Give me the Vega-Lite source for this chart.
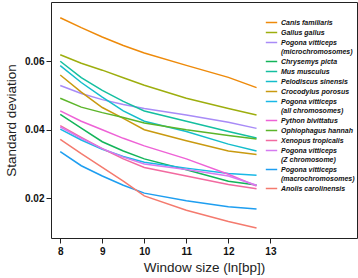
{
  "$schema": "https://vega.github.io/schema/vega-lite/v6.json",
  "autosize": {"type": "none"},
  "padding": {"left": 51, "top": 2, "right": 1, "bottom": 40},
  "width": 306,
  "height": 236,
  "config": {
    "view": {"stroke": "#222", "strokeWidth": 1},
    "font": "Liberation Sans",
    "axis": {"domain": false, "tickColor": "#222", "labelColor": "#111", "titleColor": "#222", "labelFontSize": 10, "labelFontWeight": "bold", "titleFontSize": 13.5, "titleFontWeight": "normal", "grid": false, "tickSize": 5}
  },
  "datasets": {
    "sd": [
      {"species": "Canis familiaris", "x": 8, "sd": 0.0727}, {"species": "Canis familiaris", "x": 8.5, "sd": 0.0698}, {"species": "Canis familiaris", "x": 9, "sd": 0.0671}, {"species": "Canis familiaris", "x": 9.5, "sd": 0.0646}, {"species": "Canis familiaris", "x": 10, "sd": 0.0624}, {"species": "Canis familiaris", "x": 11, "sd": 0.0588}, {"species": "Canis familiaris", "x": 12, "sd": 0.0553}, {"species": "Canis familiaris", "x": 12.67, "sd": 0.0523},
      {"species": "Gallus gallus", "x": 8, "sd": 0.0619}, {"species": "Gallus gallus", "x": 8.5, "sd": 0.0594}, {"species": "Gallus gallus", "x": 9, "sd": 0.0574}, {"species": "Gallus gallus", "x": 9.5, "sd": 0.0552}, {"species": "Gallus gallus", "x": 10, "sd": 0.0530}, {"species": "Gallus gallus", "x": 11, "sd": 0.0492}, {"species": "Gallus gallus", "x": 12, "sd": 0.0462}, {"species": "Gallus gallus", "x": 12.67, "sd": 0.0443},
      {"species": "Pogona vitticeps|(microchromosomes)", "x": 8, "sd": 0.0529}, {"species": "Pogona vitticeps|(microchromosomes)", "x": 8.5, "sd": 0.0506}, {"species": "Pogona vitticeps|(microchromosomes)", "x": 9, "sd": 0.0488}, {"species": "Pogona vitticeps|(microchromosomes)", "x": 9.5, "sd": 0.0474}, {"species": "Pogona vitticeps|(microchromosomes)", "x": 10, "sd": 0.0462}, {"species": "Pogona vitticeps|(microchromosomes)", "x": 11, "sd": 0.0443}, {"species": "Pogona vitticeps|(microchromosomes)", "x": 12, "sd": 0.0422}, {"species": "Pogona vitticeps|(microchromosomes)", "x": 12.67, "sd": 0.0404},
      {"species": "Chrysemys picta", "x": 8, "sd": 0.0445}, {"species": "Chrysemys picta", "x": 8.5, "sd": 0.0405}, {"species": "Chrysemys picta", "x": 9, "sd": 0.0365}, {"species": "Chrysemys picta", "x": 9.5, "sd": 0.0338}, {"species": "Chrysemys picta", "x": 10, "sd": 0.0315}, {"species": "Chrysemys picta", "x": 11, "sd": 0.0283}, {"species": "Chrysemys picta", "x": 12, "sd": 0.0250}, {"species": "Chrysemys picta", "x": 12.67, "sd": 0.0239},
      {"species": "Mus musculus", "x": 8, "sd": 0.0600}, {"species": "Mus musculus", "x": 8.5, "sd": 0.0552}, {"species": "Mus musculus", "x": 9, "sd": 0.0515}, {"species": "Mus musculus", "x": 9.5, "sd": 0.0483}, {"species": "Mus musculus", "x": 10, "sd": 0.0455}, {"species": "Mus musculus", "x": 11, "sd": 0.0425}, {"species": "Mus musculus", "x": 12, "sd": 0.0395}, {"species": "Mus musculus", "x": 12.67, "sd": 0.0376},
      {"species": "Pelodiscus sinensis", "x": 8, "sd": 0.0587}, {"species": "Pelodiscus sinensis", "x": 8.5, "sd": 0.0538}, {"species": "Pelodiscus sinensis", "x": 9, "sd": 0.0495}, {"species": "Pelodiscus sinensis", "x": 9.5, "sd": 0.0455}, {"species": "Pelodiscus sinensis", "x": 10, "sd": 0.0425}, {"species": "Pelodiscus sinensis", "x": 11, "sd": 0.0395}, {"species": "Pelodiscus sinensis", "x": 12, "sd": 0.0358}, {"species": "Pelodiscus sinensis", "x": 12.67, "sd": 0.0338},
      {"species": "Crocodylus porosus", "x": 8, "sd": 0.0560}, {"species": "Crocodylus porosus", "x": 8.5, "sd": 0.0510}, {"species": "Crocodylus porosus", "x": 9, "sd": 0.0465}, {"species": "Crocodylus porosus", "x": 9.5, "sd": 0.0433}, {"species": "Crocodylus porosus", "x": 10, "sd": 0.0400}, {"species": "Crocodylus porosus", "x": 11, "sd": 0.0368}, {"species": "Crocodylus porosus", "x": 12, "sd": 0.0338}, {"species": "Crocodylus porosus", "x": 12.67, "sd": 0.0328},
      {"species": "Pogona vitticeps|(all chromosomes)", "x": 8, "sd": 0.0402}, {"species": "Pogona vitticeps|(all chromosomes)", "x": 8.5, "sd": 0.0370}, {"species": "Pogona vitticeps|(all chromosomes)", "x": 9, "sd": 0.0343}, {"species": "Pogona vitticeps|(all chromosomes)", "x": 9.5, "sd": 0.0322}, {"species": "Pogona vitticeps|(all chromosomes)", "x": 10, "sd": 0.0305}, {"species": "Pogona vitticeps|(all chromosomes)", "x": 11, "sd": 0.0288}, {"species": "Pogona vitticeps|(all chromosomes)", "x": 12, "sd": 0.0272}, {"species": "Pogona vitticeps|(all chromosomes)", "x": 12.67, "sd": 0.0267},
      {"species": "Python bivittatus", "x": 8, "sd": 0.0455}, {"species": "Python bivittatus", "x": 8.5, "sd": 0.0425}, {"species": "Python bivittatus", "x": 9, "sd": 0.0400}, {"species": "Python bivittatus", "x": 9.5, "sd": 0.0375}, {"species": "Python bivittatus", "x": 10, "sd": 0.0353}, {"species": "Python bivittatus", "x": 11, "sd": 0.0315}, {"species": "Python bivittatus", "x": 12, "sd": 0.0270}, {"species": "Python bivittatus", "x": 12.67, "sd": 0.0236},
      {"species": "Ophiophagus hannah", "x": 8, "sd": 0.0492}, {"species": "Ophiophagus hannah", "x": 8.5, "sd": 0.0466}, {"species": "Ophiophagus hannah", "x": 9, "sd": 0.0450}, {"species": "Ophiophagus hannah", "x": 9.5, "sd": 0.0436}, {"species": "Ophiophagus hannah", "x": 10, "sd": 0.0420}, {"species": "Ophiophagus hannah", "x": 11, "sd": 0.0400}, {"species": "Ophiophagus hannah", "x": 12, "sd": 0.0383}, {"species": "Ophiophagus hannah", "x": 12.67, "sd": 0.0373},
      {"species": "Xenopus tropicalis", "x": 8, "sd": 0.0412}, {"species": "Xenopus tropicalis", "x": 8.5, "sd": 0.0378}, {"species": "Xenopus tropicalis", "x": 9, "sd": 0.0345}, {"species": "Xenopus tropicalis", "x": 9.5, "sd": 0.0315}, {"species": "Xenopus tropicalis", "x": 10, "sd": 0.0290}, {"species": "Xenopus tropicalis", "x": 11, "sd": 0.0265}, {"species": "Xenopus tropicalis", "x": 12, "sd": 0.0240}, {"species": "Xenopus tropicalis", "x": 12.67, "sd": 0.0228},
      {"species": "Pogona vitticeps|(Z chromosome)", "x": 8, "sd": 0.0408}, {"species": "Pogona vitticeps|(Z chromosome)", "x": 8.5, "sd": 0.0375}, {"species": "Pogona vitticeps|(Z chromosome)", "x": 9, "sd": 0.0345}, {"species": "Pogona vitticeps|(Z chromosome)", "x": 9.5, "sd": 0.0320}, {"species": "Pogona vitticeps|(Z chromosome)", "x": 10, "sd": 0.0300}, {"species": "Pogona vitticeps|(Z chromosome)", "x": 11, "sd": 0.0284}, {"species": "Pogona vitticeps|(Z chromosome)", "x": 12, "sd": 0.0265}, {"species": "Pogona vitticeps|(Z chromosome)", "x": 12.67, "sd": 0.0238},
      {"species": "Pogona vitticeps|(macrochromosomes)", "x": 8, "sd": 0.0336}, {"species": "Pogona vitticeps|(macrochromosomes)", "x": 8.5, "sd": 0.0295}, {"species": "Pogona vitticeps|(macrochromosomes)", "x": 9, "sd": 0.0265}, {"species": "Pogona vitticeps|(macrochromosomes)", "x": 9.5, "sd": 0.0238}, {"species": "Pogona vitticeps|(macrochromosomes)", "x": 10, "sd": 0.0215}, {"species": "Pogona vitticeps|(macrochromosomes)", "x": 11, "sd": 0.0193}, {"species": "Pogona vitticeps|(macrochromosomes)", "x": 12, "sd": 0.0175}, {"species": "Pogona vitticeps|(macrochromosomes)", "x": 12.67, "sd": 0.0169},
      {"species": "Anolis carolinensis", "x": 8, "sd": 0.0372}, {"species": "Anolis carolinensis", "x": 8.5, "sd": 0.0330}, {"species": "Anolis carolinensis", "x": 9, "sd": 0.0290}, {"species": "Anolis carolinensis", "x": 9.5, "sd": 0.0250}, {"species": "Anolis carolinensis", "x": 10, "sd": 0.0207}, {"species": "Anolis carolinensis", "x": 11, "sd": 0.0165}, {"species": "Anolis carolinensis", "x": 12, "sd": 0.0132}, {"species": "Anolis carolinensis", "x": 12.67, "sd": 0.0113}
    ]
  },
  "data": {"name": "sd"},
  "mark": {"type": "line", "strokeWidth": 1.5, "clip": true},
  "encoding": {
    "x": {"field": "x", "type": "quantitative", "scale": {"domain": [7.78, 15.06], "nice": false, "zero": false},
      "axis": {"values": [8, 9, 10, 11, 12, 13], "title": "Window size (ln[bp])", "labelPadding": 3, "titlePadding": 4}},
    "y": {"field": "sd", "type": "quantitative", "scale": {"domain": [0.0084, 0.0773], "nice": false, "zero": false},
      "axis": {"values": [0.02, 0.04, 0.06], "format": ".2f", "title": "Standard deviation", "labelPadding": 2, "titlePadding": 6}},
    "color": {"field": "species", "type": "nominal",
      "scale": {
        "domain": ["Canis familiaris", "Gallus gallus", "Pogona vitticeps|(microchromosomes)", "Chrysemys picta", "Mus musculus", "Pelodiscus sinensis", "Crocodylus porosus", "Pogona vitticeps|(all chromosomes)", "Python bivittatus", "Ophiophagus hannah", "Xenopus tropicalis", "Pogona vitticeps|(Z chromosome)", "Pogona vitticeps|(macrochromosomes)", "Anolis carolinensis"],
        "range": ["#EE8A0A", "#9DAE0E", "#A88BF7", "#13B45A", "#14BFA0", "#14BDCB", "#C99A10", "#19B8E6", "#EE62D6", "#5CB52A", "#F26AA0", "#D57AF0", "#1E9EF0", "#F47A6E"]
      },
      "legend": {
        "title": null, "orient": "none", "legendX": 214, "legendY": 14, "padding": 0,
        "symbolType": "stroke", "symbolSize": 130, "symbolStrokeWidth": 1.5,
        "labelFontSize": 7, "labelFontStyle": "italic", "labelFontWeight": "bold", "labelColor": "#111",
        "labelLimit": 200, "labelOffset": 3, "rowPadding": -0.5,
        "labelExpr": "split(datum.label, '|')"
      }
    },
    "order": {"field": "x", "type": "quantitative"}
  }
}
